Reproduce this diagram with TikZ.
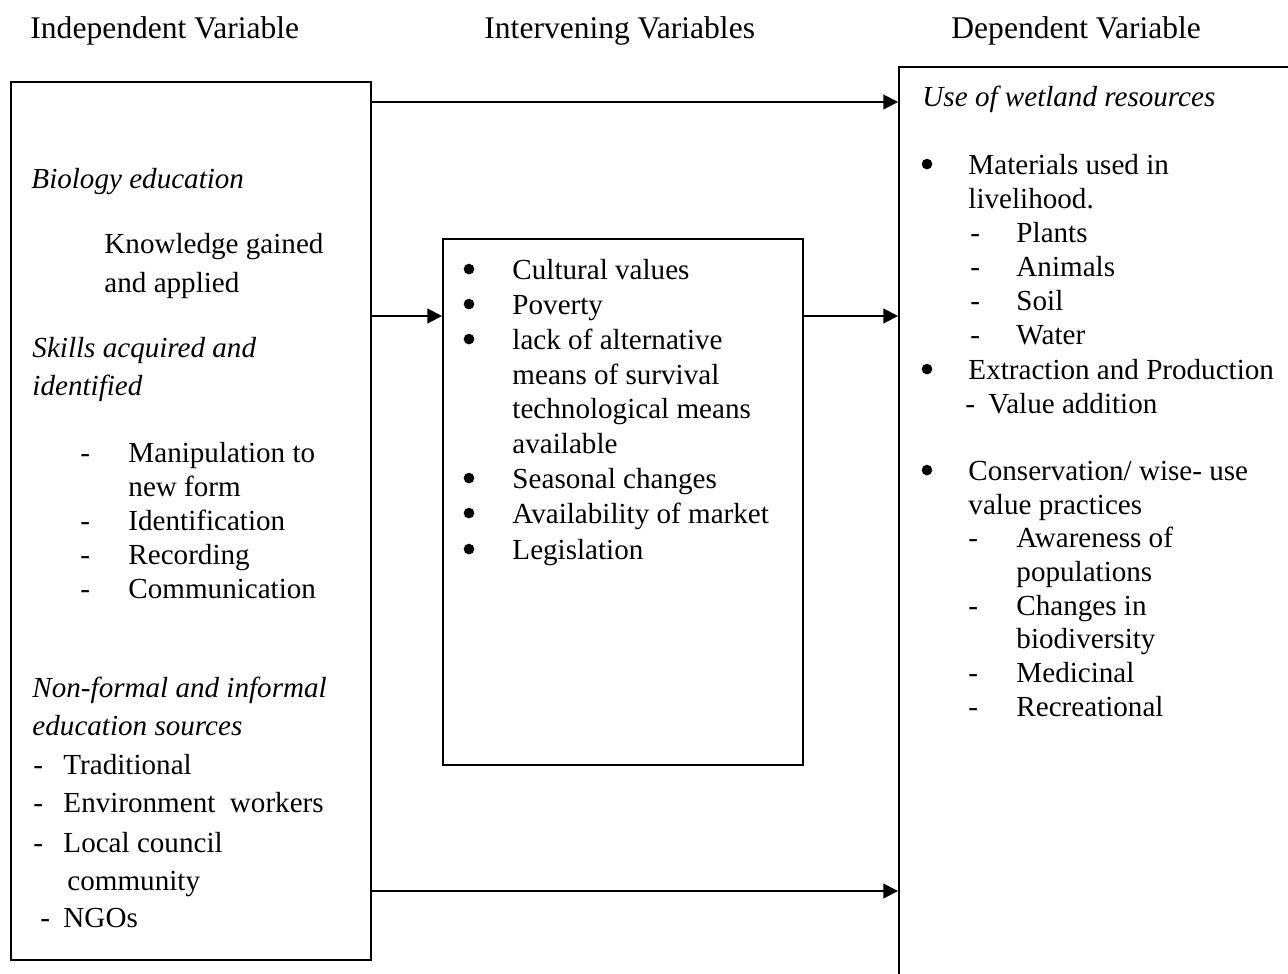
\documentclass[tikz,border=0pt]{standalone}
\usepackage{fontspec}
\setmainfont{Liberation Serif}
\usetikzlibrary{arrows.meta,fit}
\begin{document}
\begin{tikzpicture}[x=0.4124pt,y=-0.4124pt,
 txt/.style={anchor=base west,inner sep=0pt,font=\fontsize{12}{14}\selectfont},
 itx/.style={anchor=base west,inner sep=0pt,font=\fontsize{12}{14}\selectfont\itshape},
 hdr/.style={anchor=base west,inner sep=0pt,font=\fontsize{13}{15}\selectfont},
 bulc/.style={circle,fill=black,inner sep=0pt,minimum size=4.4pt,yshift=4.1pt},
 box/.style={draw,line width=0.8pt,inner sep=0pt},
 arr/.style={line width=0.8pt,-{Triangle[length=6pt,width=6pt]}}]
\useasboundingbox (0,0) rectangle (1288,973);
\clip (0,0) rectangle (1288,973);
% headers
\node[hdr] (h1) at (30,38) {Independent Variable};
\node[hdr] (h2) at (484,38) {Intervening Variables};
\node[hdr] (h3) at (951,38) {Dependent Variable};
% boxes
\coordinate (a1) at (11,82); \coordinate (a2) at (371,960);
\node[box,fit=(a1)(a2)] (ind) {};
\coordinate (b1) at (443,239); \coordinate (b2) at (803,765);
\node[box,fit=(b1)(b2)] (inter) {};
\coordinate (c1) at (899,67); \coordinate (c2) at (1330,1010);
\node[box,fit=(c1)(c2)] (dep) {};
% arrows
\coordinate (yt) at (0,102); \coordinate (ym) at (0,316); \coordinate (yb) at (0,891);
\draw[arr] (ind.east |- yt) -- (dep.west |- yt);
\draw[arr] (ind.east |- ym) -- (inter.west |- ym);
\draw[arr] (inter.east |- ym) -- (dep.west |- ym);
\draw[arr] (ind.east |- yb) -- (dep.west |- yb);
% left box text
\node[itx] (l1) at (31,188) {Biology education};
\node[txt] (l2) at (104,253) {Knowledge gained};
\node[txt] (l3) at (104,292) {and applied};
\node[itx] (l4) at (32,357) {Skills acquired and};
\node[itx] (l5) at (32,395) {identified};
\node[txt] (d1) at (80,462) {-};
\node[txt] (l6) at (128,462) {Manipulation to};
\node[txt] (l7) at (128,496) {new form};
\node[txt] (d2) at (80,530) {-};
\node[txt] (l8) at (128,530) {Identification};
\node[txt] (d3) at (80,564) {-};
\node[txt] (l9) at (128,564) {Recording};
\node[txt] (d4) at (80,598) {-};
\node[txt] (l10) at (128,598) {Communication};
\node[itx] (l11) at (32,697) {Non-formal and informal};
\node[itx] (l12) at (32,735) {education sources};
\node[txt] (d5) at (33,774) {-};
\node[txt] (l13) at (63,774) {Traditional};
\node[txt] (d6) at (33,812) {-};
\node[txt] (l14) at (63,812) {Environment\ \ workers};
\node[txt] (d7) at (33,852) {-};
\node[txt] (l15) at (63,852) {Local council};
\node[txt] (l16) at (67,890) {community};
\node[txt] (d8) at (40,927) {-};
\node[txt] (l17) at (63,927) {NGOs};
% middle box text
\node[bulc] (m1b) at (469,279) {};
\node[txt] (m1) at (512,279) {Cultural values};
\node[bulc] (m2b) at (469,314) {};
\node[txt] (m2) at (512,314) {Poverty};
\node[bulc] (m3b) at (469,349) {};
\node[txt] (m3) at (512,349) {lack of alternative};
\node[txt] (m4) at (512,384) {means of survival};
\node[txt] (m5) at (512,418) {technological means};
\node[txt] (m6) at (512,453) {available};
\node[bulc] (m7b) at (469,488) {};
\node[txt] (m7) at (512,488) {Seasonal changes};
\node[bulc] (m8b) at (469,523) {};
\node[txt] (m8) at (512,523) {Availability of market};
\node[bulc] (m9b) at (469,559) {};
\node[txt] (m9) at (512,559) {Legislation};
% right box text
\node[itx] (r0) at (922,106) {Use of wetland resources};
\node[bulc] (r1b) at (927,174) {};
\node[txt] (r1) at (968,174) {Materials used in};
\node[txt] (r2) at (968,208) {livelihood.};
\node[txt] (e1) at (970,242) {-};
\node[txt] (r3) at (1016,242) {Plants};
\node[txt] (e2) at (970,276) {-};
\node[txt] (r4) at (1016,276) {Animals};
\node[txt] (e3) at (970,310) {-};
\node[txt] (r5) at (1016,310) {Soil};
\node[txt] (e4) at (970,344) {-};
\node[txt] (r6) at (1016,344) {Water};
\node[bulc] (r7b) at (927,379) {};
\node[txt] (r7) at (968,379) {Extraction and Production};
\node[txt] (e5) at (965,413) {-};
\node[txt] (r8) at (988,413) {Value addition};
\node[bulc] (r9b) at (927,480) {};
\node[txt] (r9) at (968,480) {Conservation/ wise- use};
\node[txt] (r10) at (968,514) {value practices};
\node[txt] (e6) at (968,547) {-};
\node[txt] (r11) at (1016,547) {Awareness of};
\node[txt] (r12) at (1016,581) {populations};
\node[txt] (e7) at (968,615) {-};
\node[txt] (r13) at (1016,615) {Changes in};
\node[txt] (r14) at (1016,648) {biodiversity};
\node[txt] (e8) at (968,682) {-};
\node[txt] (r15) at (1016,682) {Medicinal};
\node[txt] (e9) at (968,716) {-};
\node[txt] (r16) at (1016,716) {Recreational};
\end{tikzpicture}
\end{document}
